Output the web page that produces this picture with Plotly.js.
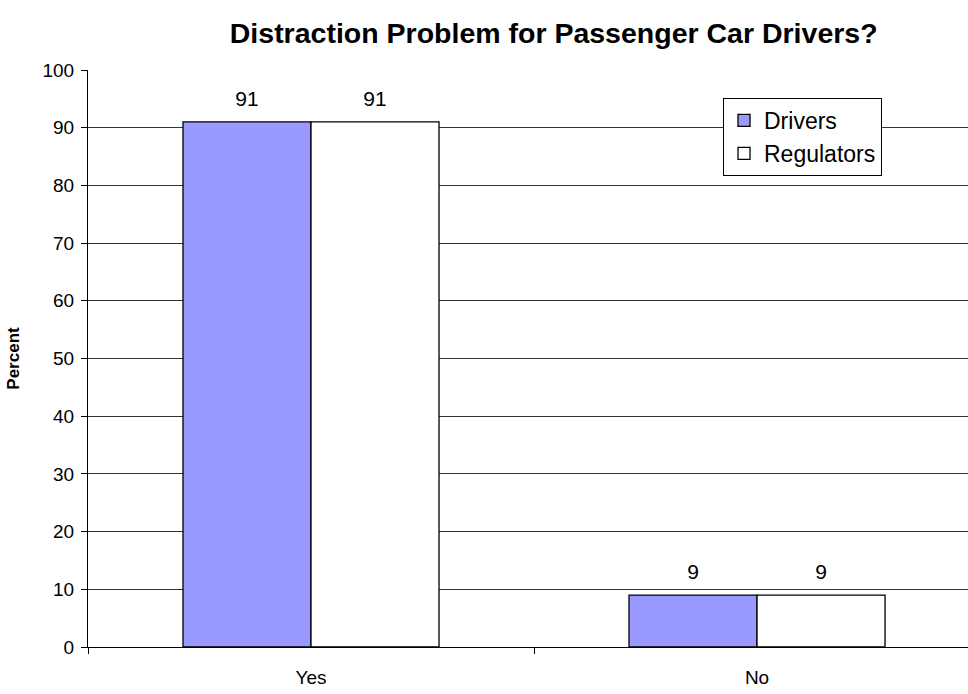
<!DOCTYPE html>
<html><head><meta charset="utf-8">
<script src="https://cdn.plot.ly/plotly-3.0.1.min.js"></script>
<style>html,body{margin:0;padding:0;background:#fff}#chart{width:968px;height:694px}</style>
</head><body><div id="chart"></div>
<script>
const categories = ["Yes", "No"];
const drivers = [91, 9];
const regulators = [91, 9];
const seriesNames = ["Drivers", "Regulators"];
const yTicks = [0, 10, 20, 30, 40, 50, 60, 70, 80, 90, 100];

const font = "Arial, 'Liberation Sans', sans-serif";
const series = [drivers, regulators];
const fills = ["#9999ff", "#ffffff"];
const traces = [];
series.forEach((vals, i) => {
  traces.push({type: "bar", name: seriesNames[i], legendgroup: "g" + i, offsetgroup: "o" + i,
    x: categories, y: vals,
    marker: {color: fills[i], line: {color: "#000", width: 1.3}}});
});
series.forEach((vals, i) => {
  traces.push({type: "scatter", mode: "markers+text", showlegend: false, offsetgroup: "o" + i,
    x: categories, y: vals, text: vals.map(String), textposition: "top center", cliponaxis: false,
    textfont: {size: 21, color: "#000", family: font},
    marker: {size: 15, color: "rgba(0,0,0,0)"}});
});
const layout = {
  width: 968, height: 694,
  margin: {l: 88, r: 0, t: 70, b: 47},
  paper_bgcolor: "#fff", plot_bgcolor: "#fff",
  font: {family: font, color: "#000"},
  title: {text: "<b>Distraction Problem for Passenger Car Drivers?</b>", font: {size: 28.5, family: font, color: "#000"},
          x: 0.572, xanchor: "center", y: 0.952, yanchor: "middle"},
  barmode: "group", bargap: 0.426, bargroupgap: 0,
  scattermode: "group", scattergap: 0.426,
  xaxis: {range: [-0.5, 1.473], tickson: "boundaries", ticks: "outside", ticklen: 6, tickcolor: "#000",
          showline: true, linecolor: "#000", linewidth: 1, showgrid: false, zeroline: false,
          tickfont: {size: 19, family: font}, ticklabelstandoff: 13, fixedrange: true},
  yaxis: {range: [0, 100], tickvals: yTicks, ticks: "outside", ticklen: 6, tickcolor: "#000",
          showline: true, linecolor: "#000", linewidth: 1, showgrid: true, gridcolor: "#333", gridwidth: 1,
          zeroline: false, tickfont: {size: 19, family: font}, ticklabelstandoff: 3,
          title: {text: "<b>Percent</b>", font: {size: 17, family: font}, standoff: 18}},
  legend: {x: 0.7216, xanchor: "left", y: 0.9515, yanchor: "top", bgcolor: "#fff", bordercolor: "#000",
           borderwidth: 1, font: {size: 23, family: font}, itemwidth: 30, tracegroupgap: 0},
  showlegend: true
};
Plotly.newPlot("chart", traces, layout, {displayModeBar: false, staticPlot: true});
</script></body></html>
